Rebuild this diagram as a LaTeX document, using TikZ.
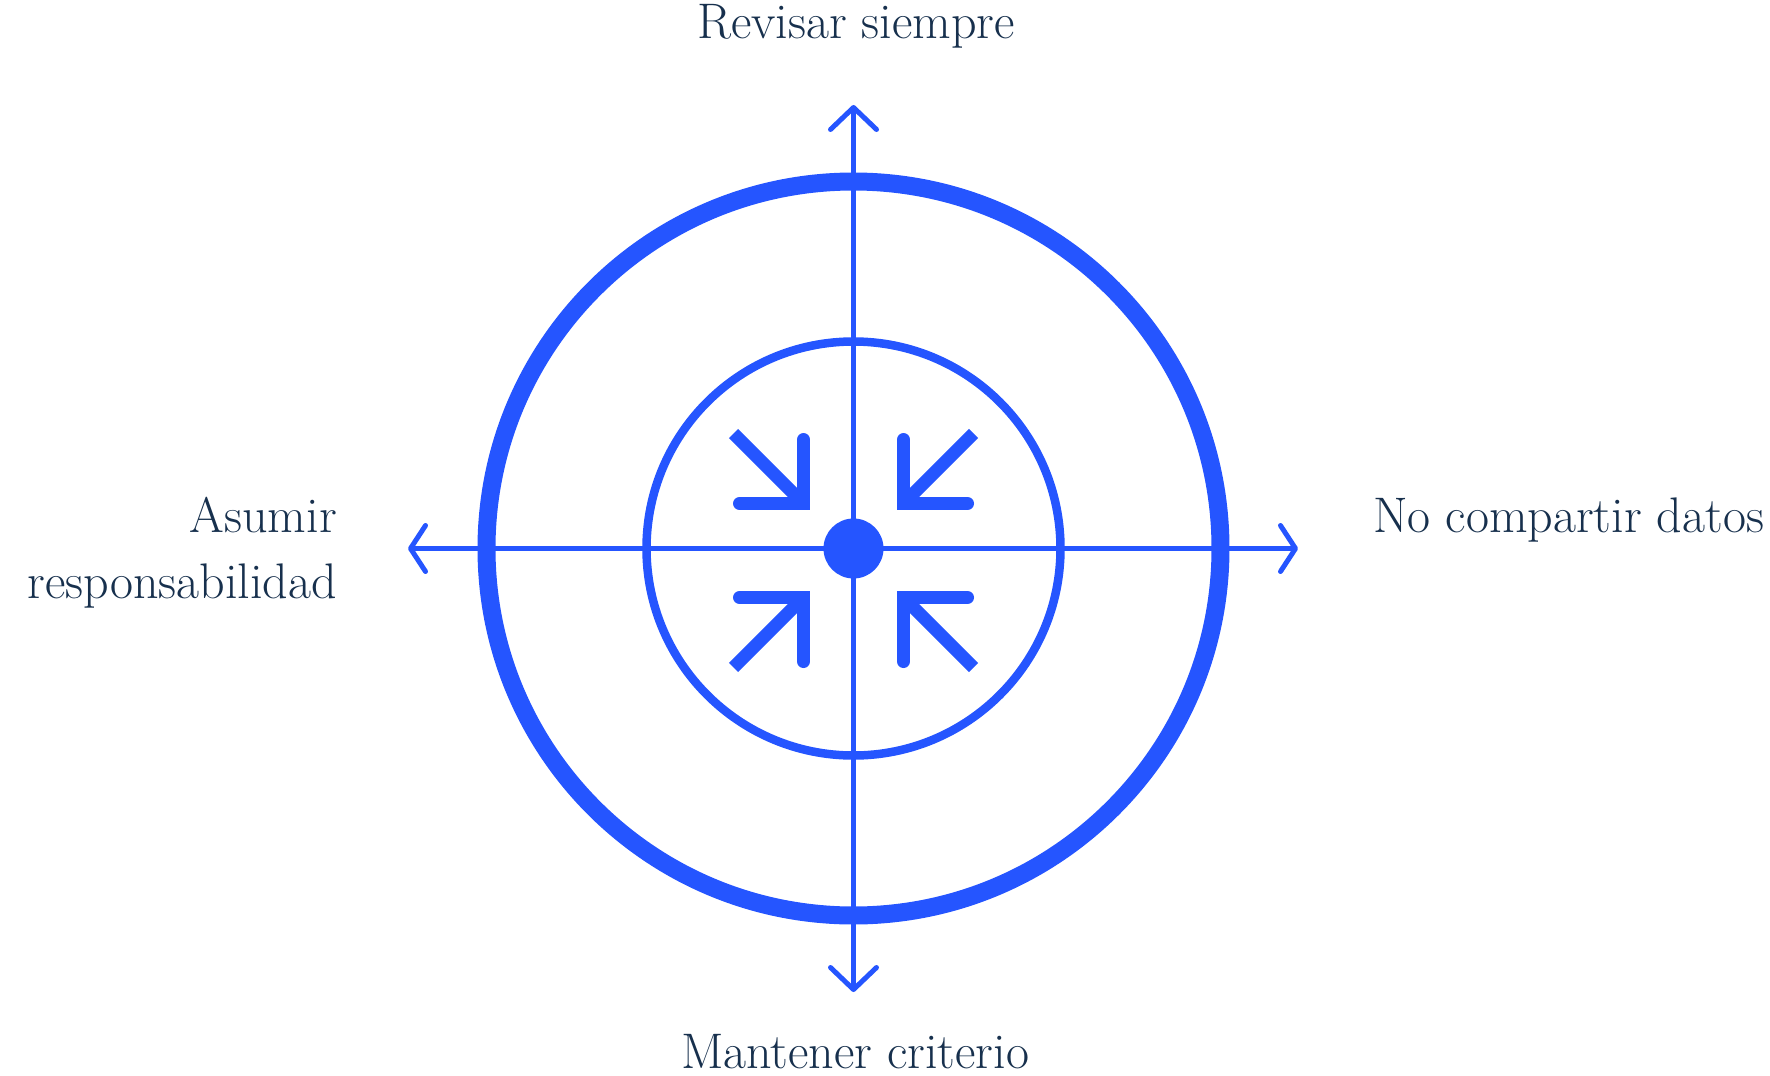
\documentclass[tikz,border=0pt]{standalone}
\usepackage{tikz}
\usetikzlibrary{arrows.meta,calc,positioning}
\definecolor{targetBlue}{RGB}{37,85,255}
\definecolor{inkNavy}{RGB}{23,48,77}

\tikzset{
  hbarb/.tip={Straight Barb[length=15pt,width=46pt,round]},
  vbarb/.tip={Straight Barb[length=22pt,width=46pt,round]}
}

\begin{document}
\begin{tikzpicture}[x=1pt,y=-1pt,
  axisline/.style={draw=targetBlue,line width=5pt},
  ring/.style={draw=targetBlue},
  cornerhead/.style={draw=targetBlue,line width=13pt,line cap=round,line join=miter},
  cornershaft/.style={draw=targetBlue,line width=13pt,line cap=butt},
  lbl/.style={text=inkNavy,font=\fontsize{50}{66}\selectfont,inner sep=0pt}
]
  \useasboundingbox (0,0) rectangle (1770,1076);
  % centre and axis ends
  \coordinate (c) at (853.5,548.5);
  \coordinate (axN) at (853.5,105);
  \coordinate (axS) at (853.5,992);
  \coordinate (axW) at (408,548.5);
  \coordinate (axE) at (1298,548.5);
  % rings
  \draw[ring,line width=18pt] (c) circle (367);
  \draw[ring,line width=8.5pt] (c) circle (207);
  % axes
  \draw[axisline,hbarb-hbarb] (axW) -- (axE);
  \draw[axisline,vbarb-vbarb] (axS) -- (axN);
  \fill[targetBlue] (c) circle (30);
  % inward arrows
  \foreach \sx/\sy/\oy in {-1/-1/-45, 1/-1/-45, -1/1/49, 1/1/49} {
    \coordinate (tip) at ($(c)+(\sx*50,\oy)$);
    \draw[cornershaft] (tip) -- ($(tip)+(\sx*70,\sy*70)$);
    \draw[cornerhead] ($(tip)+(\sx*64,0)$) -- (tip) -- ($(tip)+(0,\sy*64)$);
  }
  % labels
  \node[lbl,anchor=base] (revisar) at (856,38) {Revisar siempre};
  \node[lbl,anchor=base] (mantener) at (855,1068) {Mantener criterio};
  \node[lbl,anchor=base west] (compartir) at (1373,532) {No compartir datos};
  \node[lbl,anchor=base east,align=right] (asumir) at (337,598) {Asumir\\responsabilidad};
\end{tikzpicture}
\end{document}
